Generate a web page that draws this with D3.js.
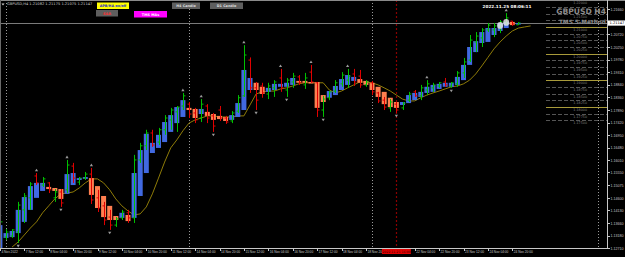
<!DOCTYPE html>
<html>
	<head>
		<meta http-equiv="Content-Type" content="text/html;charset=utf-8"/>
		<title>GBPUSD H4</title>
		<script type="text/javascript" src="https://d3js.org/d3.v7.min.js"></script>
		<style type="text/css">
			html, body { margin: 0; padding: 0; background: #000; }
			svg { display: block; font-family: "DejaVu Sans", sans-serif; }
			.axis path, .axis line { stroke: #c8c8c8; shape-rendering: crispEdges; }
			.axis text { fill: #c8c8c8; }
		</style>
	</head>
	<body>
		<script type="text/javascript">

			//Bars, index 0 = 4 Nov 20:00, index 1 = 7 Nov 00:00, one bar every 4 hours
			var haOpen = [1.1257,1.1310,1.1313,1.1328,1.1370,1.1415,1.1460,1.1486,1.1501,1.1497,
				1.1493,1.1475,1.1508,1.1527,1.1531,1.1534,1.1504,1.1467,1.1430,1.1392,
				1.1385,1.1396,1.1385,1.1467,1.1553,1.1628,1.1647,1.1669,1.1707,1.1740,
				1.1763,1.1797,1.1793,1.1774,1.1782,1.1774,1.1767,1.1763,1.1752,1.1763,
				1.1789,1.1864,1.1891,1.1876,1.1857,1.1864,1.1876,1.1876,1.1883,1.1898,
				1.1898,1.1894,1.1894,1.1845,1.1835,1.1845,1.1864,1.1883,1.1898,1.1905,
				1.1898,1.1891,1.1876,1.1857,1.1835,1.1819,1.1808,1.1815,1.1826,1.1838,
				1.1853,1.1857,1.1868,1.1876,1.1876,1.1883,1.1901,1.1958,1.2006,1.2040,
				1.2044,1.2070,1.2085,1.2096,1.2119,1.2111];
			var haClose = [1.1358,1.1328,1.1336,1.1415,1.1463,1.1504,1.1516,1.1516,1.1493,1.1486,
				1.1456,1.1549,1.1553,1.1534,1.1538,1.1471,1.1422,1.1388,1.1377,1.1377,
				1.1404,1.1373,1.1553,1.1639,1.1700,1.1666,1.1696,1.1744,1.1770,1.1800,
				1.1826,1.1789,1.1759,1.1793,1.1767,1.1752,1.1755,1.1748,1.1770,1.1815,
				1.1939,1.1909,1.1864,1.1849,1.1872,1.1887,1.1887,1.1891,1.1909,1.1891,
				1.1891,1.1891,1.1797,1.1819,1.1860,1.1879,1.1905,1.1920,1.1913,1.1891,
				1.1883,1.1864,1.1838,1.1811,1.1800,1.1797,1.1819,1.1845,1.1853,1.1857,
				1.1876,1.1883,1.1887,1.1891,1.1891,1.1913,1.1958,1.2025,1.2047,1.2081,
				1.2096,1.2096,1.2115,1.2119,1.2107,1.2115];
			var barOpen = [1.1302,1.1313,1.1317,1.1332,1.1415,1.1460,1.1542,1.1508,1.1516,1.1460,
				1.1482,1.1490,1.1579,1.1519,1.1534,1.1549,1.1460,1.1430,1.1388,1.1358,
				1.1385,1.1404,1.1385,1.1602,1.1655,1.1703,1.1669,1.1715,1.1752,1.1782,
				1.1804,1.1811,1.1778,1.1759,1.1804,1.1767,1.1789,1.1759,1.1748,1.1785,
				1.1842,1.1976,1.1872,1.1879,1.1849,1.1872,1.1909,1.1864,1.1894,1.1913,
				1.1883,1.1931,1.1891,1.1789,1.1835,1.1860,1.1887,1.1901,1.1924,1.1916,
				1.1883,1.1891,1.1853,1.1826,1.1797,1.1811,1.1797,1.1826,1.1857,1.1842,
				1.1864,1.1872,1.1879,1.1894,1.1879,1.1887,1.1928,1.1976,1.2044,1.2059,
				1.2089,1.2089,1.2096,1.2115,1.2122,1.2108];
			var barHigh = [1.1385,1.1343,1.1343,1.1445,1.1478,1.1519,1.1553,1.1538,1.1519,1.1493,
				1.1493,1.1602,1.1591,1.1538,1.1557,1.1572,1.1490,1.1445,1.1415,1.1388,
				1.1415,1.1415,1.1621,1.1666,1.1715,1.1715,1.1722,1.1770,1.1797,1.1804,
				1.1853,1.1819,1.1797,1.1830,1.1811,1.1778,1.1804,1.1767,1.1785,1.1845,
				1.2032,1.1986,1.1894,1.1891,1.1891,1.1901,1.1943,1.1909,1.1928,1.1920,
				1.1928,1.1958,1.1894,1.1842,1.1860,1.1901,1.1931,1.1943,1.1943,1.1939,
				1.1901,1.1898,1.1857,1.1838,1.1830,1.1819,1.1819,1.1857,1.1864,1.1883,
				1.1901,1.1891,1.1894,1.1909,1.1894,1.1935,1.1984,1.2070,1.2081,1.2096,
				1.2115,1.2115,1.2126,1.2152,1.2122,1.2118];
			var barLow = [1.1276,1.1302,1.1310,1.1291,1.1366,1.1415,1.1508,1.1501,1.1478,1.1445,
				1.1426,1.1478,1.1516,1.1508,1.1527,1.1437,1.1407,1.1358,1.1340,1.1351,
				1.1377,1.1366,1.1366,1.1591,1.1639,1.1651,1.1658,1.1696,1.1715,1.1707,
				1.1789,1.1759,1.1740,1.1744,1.1740,1.1707,1.1748,1.1737,1.1740,1.1778,
				1.1838,1.1853,1.1789,1.1835,1.1830,1.1838,1.1857,1.1838,1.1872,1.1883,
				1.1868,1.1891,1.1763,1.1763,1.1826,1.1853,1.1876,1.1872,1.1879,1.1872,
				1.1876,1.1845,1.1815,1.1789,1.1782,1.1778,1.1789,1.1819,1.1838,1.1826,
				1.1845,1.1857,1.1872,1.1876,1.1872,1.1876,1.1909,1.1969,1.2006,1.2025,
				1.2081,1.2062,1.2077,1.2107,1.2104,1.2108];
			var barClose = [1.1370,1.1332,1.1340,1.1433,1.1467,1.1512,1.1516,1.1531,1.1490,1.1482,
				1.1441,1.1583,1.1534,1.1534,1.1549,1.1452,1.1422,1.1377,1.1358,1.1381,
				1.1407,1.1385,1.1602,1.1655,1.1703,1.1658,1.1715,1.1759,1.1789,1.1800,
				1.1842,1.1774,1.1752,1.1811,1.1759,1.1729,1.1759,1.1744,1.1778,1.1835,
				1.1995,1.1872,1.1826,1.1853,1.1879,1.1894,1.1872,1.1901,1.1916,1.1891,
				1.1909,1.1894,1.1789,1.1830,1.1857,1.1891,1.1920,1.1916,1.1894,1.1883,
				1.1894,1.1857,1.1823,1.1800,1.1819,1.1789,1.1815,1.1849,1.1842,1.1872,
				1.1887,1.1883,1.1891,1.1883,1.1891,1.1928,1.1969,1.2051,1.2066,1.2089,
				1.2107,1.2104,1.2119,1.2134,1.2111,1.2115];

			//Moving average, first value sits on bar index 2
			var maStart = 2;
			var maValues = [1.1276,1.1295,1.1321,1.1347,1.1370,1.1404,1.1430,1.1456,1.1475,1.1478,
				1.1482,1.1497,1.1516,1.1531,1.1531,1.1516,1.1490,1.1456,1.1430,1.1411,
				1.1396,1.1400,1.1426,1.1475,1.1534,1.1594,1.1647,1.1677,1.1711,1.1740,
				1.1752,1.1759,1.1767,1.1767,1.1763,1.1763,1.1763,1.1767,1.1767,1.1808,
				1.1849,1.1857,1.1860,1.1860,1.1868,1.1872,1.1879,1.1887,1.1891,1.1891,
				1.1891,1.1891,1.1864,1.1853,1.1860,1.1872,1.1883,1.1894,1.1894,1.1891,
				1.1883,1.1872,1.1860,1.1845,1.1830,1.1823,1.1823,1.1835,1.1845,1.1853,
				1.1860,1.1868,1.1876,1.1879,1.1887,1.1901,1.1924,1.1954,1.1986,1.2018,
				1.2044,1.2066,1.2085,1.2096,1.2100,1.2104];

			//Fractal marks (bar indices)
			var fractalUp = [0, 6, 11, 15, 30, 33, 40, 46, 51, 57, 70, 83];
			var fractalDown = [3, 10, 18, 35, 42, 47, 53, 65, 74];

			//Support / resistance levels on the right (labels hidden under the titles are left out)
			var srLevels = [1.22, 1.2175, 1.215, 1.2125, 1.21, 1.2075, 1.205, 1.2025, 1.20, 1.1975,
				1.195, 1.1925, 1.19, 1.1875, 1.185, 1.1825, 1.18, 1.1775, 1.175];
			var srLabelled = [1.22, 1.215, 1.21, 1.2075, 1.205, 1.2025, 1.20, 1.1975,
				1.195, 1.1925, 1.19, 1.1875, 1.185, 1.1825, 1.18, 1.1775, 1.175];

			//Axis labels
			var priceTicks = ["1.12710","1.13180","1.13660","1.14130","1.14600","1.15075","1.15550",
				"1.16010","1.16480","1.16950","1.17420","1.17890","1.18360","1.18840","1.19310",
				"1.19780","1.20250","1.20720","1.21660"];
			var timeTickBars = [0, 4, 8, 12, 16, 20, 24, 28, 32, 36, 40, 44, 48, 52, 56, 60, 68, 72, 76, 80, 84];
			var timeTickLabels = ["4 Nov 2022","7 Nov 12:00","8 Nov 04:00","8 Nov 20:00","9 Nov 12:00",
				"10 Nov 04:00","10 Nov 20:00","11 Nov 12:00","14 Nov 04:00","14 Nov 20:00","15 Nov 12:00",
				"16 Nov 04:00","16 Nov 20:00","17 Nov 12:00","18 Nov 04:00","18 Nov 20:00","22 Nov 04:00",
				"22 Nov 20:00","23 Nov 12:00","24 Nov 04:00","24 Nov 20:00"];
			var weekSeparators = [1, 31, 61, 98];
			var markerBar = 65;
			var markerLabel = "2022.11.21 16:00";
			var lastPrice = 1.21147;

			var w = 625,
				h = 257,
				plotRight = 607,
				plotBottom = 248;

			var svg = d3.select("body").append("svg")
						.attr("width", w)
						.attr("height", h);

			svg.append("rect").attr("width", w).attr("height", h).attr("fill", "#000");

			//Scales
			var x = d3.scaleLinear().domain([0, 100]).range([-0.1, 609.9]);
			var y = d3.scaleLinear().domain([1.12722, 1.21636]).range([plotBottom, 10]);

			function isRound(d) { return Math.abs(d * 100 - Math.round(d * 100)) < 1e-6; }

			svg.append("clipPath").attr("id", "plot")
				.append("rect").attr("x", 0).attr("y", 0).attr("width", plotRight).attr("height", plotBottom);

			var plot = svg.append("g").attr("clip-path", "url(#plot)");

			//S&R levels
			plot.selectAll("line.sr")
				.data(srLevels)
				.enter()
				.append("line")
				.attr("class", "sr")
				.attr("x1", 546)
				.attr("x2", plotRight)
				.attr("y1", function(d) { return Math.round(y(d)) + 0.5; })
				.attr("y2", function(d) { return Math.round(y(d)) + 0.5; })
				.attr("stroke", function(d) { return isRound(d) ? "#a89a3a" : "#555"; })
				.attr("stroke-dasharray", function(d) { return isRound(d) ? null : "4,2"; })
				.attr("stroke-width", 1);

			plot.selectAll("text.sr")
				.data(srLabelled)
				.enter()
				.append("text")
				.attr("class", "sr")
				.attr("x", 587)
				.attr("y", function(d) { return y(d) + 4; })
				.attr("text-anchor", "end")
				.attr("font-size", 3.3)
				.attr("fill", "#808080")
				.text(function(d) { return d.toFixed(5); });

			//Period separators
			plot.selectAll("line.sep")
				.data(weekSeparators)
				.enter()
				.append("line")
				.attr("class", "sep")
				.attr("x1", function(d) { return Math.round(x(d)) + 0.5; })
				.attr("x2", function(d) { return Math.round(x(d)) + 0.5; })
				.attr("y1", 0)
				.attr("y2", plotBottom)
				.attr("stroke", "#9a9a9a")
				.attr("stroke-dasharray", "1,2");

			plot.append("line")
				.attr("x1", Math.round(x(markerBar)) + 0.5)
				.attr("x2", Math.round(x(markerBar)) + 0.5)
				.attr("y1", 0)
				.attr("y2", plotBottom)
				.attr("stroke", "#8b0000")
				.attr("stroke-width", 1.2)
				.attr("stroke-dasharray", "2,2");

			//Bid line
			plot.append("line")
				.attr("x1", 0)
				.attr("x2", plotRight)
				.attr("y1", Math.round(y(lastPrice)) + 0.5)
				.attr("y2", Math.round(y(lastPrice)) + 0.5)
				.attr("stroke", "#7a7a7a");

			//Moving average
			var maLine = d3.line()
				.x(function(d, i) { return x(i + maStart); })
				.y(function(d) { return y(d); });

			plot.append("path")
				.datum(maValues)
				.attr("d", maLine)
				.attr("fill", "none")
				.attr("stroke", "#8f7c08")
				.attr("stroke-width", 1);

			//Heiken Ashi bodies
			var bars = d3.range(haOpen.length);

			plot.selectAll("rect.ha")
				.data(bars)
				.enter()
				.append("rect")
				.attr("class", "ha")
				.attr("x", function(i) { return x(i) - 2.5; })
				.attr("width", 5)
				.attr("y", function(i) { return y(Math.max(haOpen[i], haClose[i])); })
				.attr("height", function(i) { return Math.max(1.5, Math.abs(y(haOpen[i]) - y(haClose[i]))); })
				.attr("fill", function(i) { return haClose[i] >= haOpen[i] ? "#4169e1" : "#ff7f50"; });

			//OHLC bars
			var ohlc = plot.selectAll("g.bar")
				.data(bars)
				.enter()
				.append("g")
				.attr("class", "bar")
				.attr("stroke", function(i) { return barClose[i] >= barOpen[i] ? "#00c000" : "#e00000"; })
				.attr("stroke-width", 1);

			ohlc.append("line")
				.attr("x1", function(i) { return Math.round(x(i)) + 0.5; })
				.attr("x2", function(i) { return Math.round(x(i)) + 0.5; })
				.attr("y1", function(i) { return y(barHigh[i]); })
				.attr("y2", function(i) { return y(barLow[i]); });

			ohlc.append("line")
				.attr("x1", function(i) { return Math.round(x(i)) - 1.5; })
				.attr("x2", function(i) { return Math.round(x(i)) + 0.5; })
				.attr("y1", function(i) { return y(barOpen[i]); })
				.attr("y2", function(i) { return y(barOpen[i]); });

			ohlc.append("line")
				.attr("x1", function(i) { return Math.round(x(i)) + 0.5; })
				.attr("x2", function(i) { return Math.round(x(i)) + 2.5; })
				.attr("y1", function(i) { return y(barClose[i]); })
				.attr("y2", function(i) { return y(barClose[i]); });

			//Fractals
			plot.selectAll("path.fup")
				.data(fractalUp)
				.enter()
				.append("path")
				.attr("class", "fup")
				.attr("d", function(i) {
					var cx = x(i), cy = y(barHigh[i]) - 3;
					return "M" + (cx - 1.6) + "," + (cy + 1.2) + "L" + cx + "," + (cy - 1.4) + "L" + (cx + 1.6) + "," + (cy + 1.2) + "Z";
				})
				.attr("fill", "#9a9a9a");

			plot.selectAll("path.fdn")
				.data(fractalDown)
				.enter()
				.append("path")
				.attr("class", "fdn")
				.attr("d", function(i) {
					var cx = x(i), cy = y(barLow[i]) + 3;
					return "M" + (cx - 1.6) + "," + (cy - 1.2) + "L" + cx + "," + (cy + 1.4) + "L" + (cx + 1.6) + "," + (cy - 1.2) + "Z";
				})
				.attr("fill", "#9a9a9a");

			//Marks on the last bars
			plot.append("ellipse").attr("cx", x(82)).attr("cy", y(1.2106)).attr("rx", 3).attr("ry", 3.4)
				.attr("fill", "#e8e8e8").attr("opacity", 0.85);
			plot.append("ellipse").attr("cx", x(83)).attr("cy", y(1.2117)).attr("rx", 3).attr("ry", 3.4)
				.attr("fill", "#e8e8e8").attr("opacity", 0.85);

			//Frame
			svg.append("line").attr("x1", 0).attr("x2", w).attr("y1", 0.5).attr("y2", 0.5).attr("stroke", "#8a8a8a");
			svg.append("line").attr("x1", 0.5).attr("x2", 0.5).attr("y1", 0).attr("y2", plotBottom).attr("stroke", "#6a6a6a");

			//Price axis
			var yAxis = d3.axisRight(y)
				.tickValues(priceTicks.map(Number))
				.tickFormat(function(d, i) { return priceTicks[i]; })
				.tickSize(2)
				.tickSizeOuter(0);

			svg.append("g")
				.attr("class", "axis")
				.attr("transform", "translate(" + (plotRight + 0.5) + ",0)")
				.call(yAxis)
				.call(function(g) { g.select(".domain").attr("d", "M0,0V" + (plotBottom + 0.5)); })
				.selectAll("text")
				.attr("font-size", 3.6)
				.attr("x", 3);

			//Time axis
			var xAxis = d3.axisBottom(x)
				.tickValues(timeTickBars)
				.tickFormat(function(d, i) { return timeTickLabels[i]; })
				.tickSize(2)
				.tickSizeOuter(0);

			svg.append("g")
				.attr("class", "axis")
				.attr("transform", "translate(0," + (plotBottom + 0.5) + ")")
				.call(xAxis)
				.call(function(g) { g.select(".domain").attr("d", "M0,0H" + (plotRight + 0.5)); })
				.selectAll("text")
				.attr("font-size", 3.2)
				.attr("text-anchor", "start")
				.attr("x", 1)
				.attr("y", 2.5);

			//Marker label on time axis
			svg.append("rect")
				.attr("x", x(markerBar) - 14.5).attr("y", plotBottom + 1)
				.attr("width", 29).attr("height", 5)
				.attr("fill", "#e00000");
			svg.append("text")
				.attr("x", x(markerBar)).attr("y", plotBottom + 4.9)
				.attr("text-anchor", "middle")
				.attr("font-size", 3.2)
				.attr("fill", "#3a0000")
				.text(markerLabel);

			//Current price box
			svg.append("rect")
				.attr("x", plotRight + 1).attr("y", y(lastPrice) - 2.6)
				.attr("width", 17).attr("height", 5.2)
				.attr("fill", "#ffffff");
			svg.append("text")
				.attr("x", plotRight + 2.5).attr("y", y(lastPrice) + 1.4)
				.attr("font-size", 3.6)
				.attr("fill", "#000")
				.text(lastPrice.toFixed(5));

			//Header
			svg.append("path").attr("d", "M1.5,3.5L4.5,3.5L3,5.5Z").attr("fill", "#cfcfcf");
			svg.append("text")
				.attr("x", 7).attr("y", 5.4)
				.attr("font-size", 3.6)
				.attr("fill", "#d0d0d0")
				.text("GBPUSD,H4  1.21082 1.21175 1.21075 1.21147");

			//Buttons
			var buttons = [
				{ t: "APB/HA on/off", x: 97, y: 2.5, w: 32, fill: "#ffff00", color: "#1a1acc" },
				{ t: "S&R", x: 96, y: 10, w: 22, fill: "#5e5e5e", color: "#ff3030" },
				{ t: "TMS MAs", x: 134, y: 11, w: 33, fill: "#ff00ff", color: "#ffffff" },
				{ t: "H4 Candle", x: 172, y: 2.5, w: 28, fill: "#5e5e5e", color: "#dedede" },
				{ t: "D1 Candle", x: 210, y: 2.5, w: 33, fill: "#5e5e5e", color: "#dedede" }
			];
			var btn = svg.selectAll("g.btn")
				.data(buttons)
				.enter()
				.append("g")
				.attr("class", "btn");
			btn.append("rect")
				.attr("x", function(d) { return d.x; })
				.attr("y", function(d) { return d.y; })
				.attr("width", function(d) { return d.w; })
				.attr("height", 6.5)
				.attr("fill", function(d) { return d.fill; });
			btn.append("text")
				.attr("x", function(d) { return d.x + d.w / 2; })
				.attr("y", function(d) { return d.y + 4.6; })
				.attr("text-anchor", "middle")
				.attr("font-size", 3.4)
				.attr("font-weight", "bold")
				.attr("fill", function(d) { return d.color; })
				.text(function(d) { return d.t; });

			//Clock and titles
			svg.append("text")
				.attr("x", 507).attr("y", 8)
				.attr("text-anchor", "middle")
				.attr("font-size", 4.2)
				.attr("font-weight", "bold")
				.attr("fill", "#ffffff")
				.text("2022.11.25 08:06:11");
			svg.append("text")
				.attr("x", 606).attr("y", 13.5)
				.attr("text-anchor", "end")
				.attr("font-size", 7.6)
				.attr("font-weight", "bold")
				.attr("fill", "#8c8c8c")
				.text("GBPUSD H4");
			svg.append("text")
				.attr("x", 606).attr("y", 24)
				.attr("text-anchor", "end")
				.attr("font-size", 5.8)
				.attr("font-weight", "bold")
				.attr("fill", "#8c8c8c")
				.text("TMS 5-Method");

		</script>
	</body>
</html>
